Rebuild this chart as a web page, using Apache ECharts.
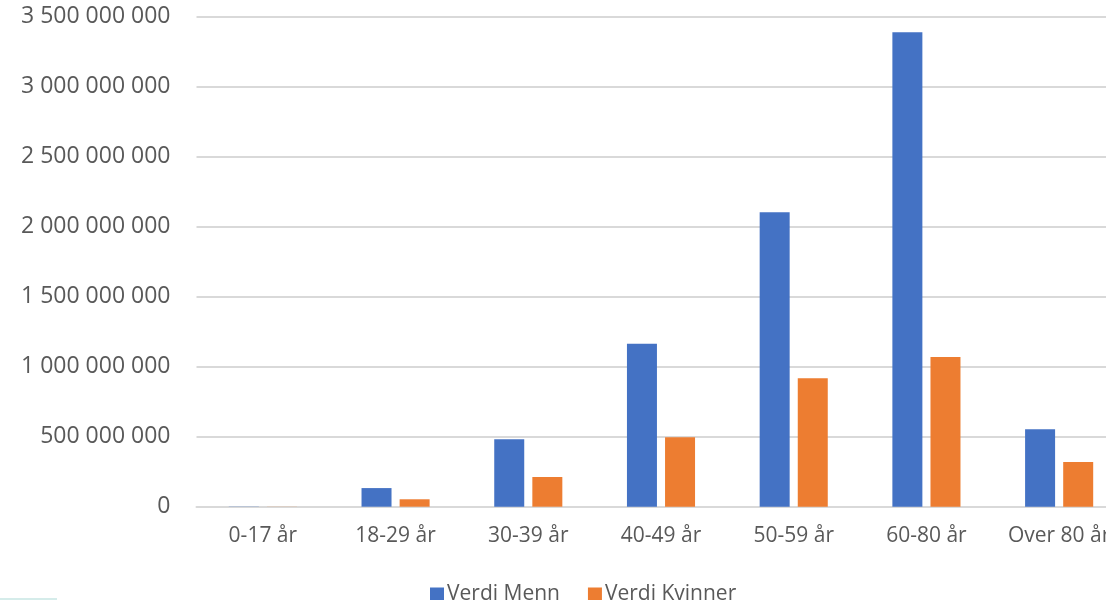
<!DOCTYPE html>
<html>
<head>
<meta charset="utf-8">
<script src="https://cdn.jsdelivr.net/npm/echarts@6/dist/echarts.min.js"></script>
<style>
html,body{margin:0;padding:0;background:#fff;overflow:hidden;width:1106px;height:600px;}
#chart{width:1126px;height:600px;}
</style>
</head>
<body>
<div id="chart"></div>
<script>
const categories = ['0-17 år','18-29 år','30-39 år','40-49 år','50-59 år','60-80 år','Over 80 år'];
const seriesNames = ['Verdi Menn','Verdi Kvinner'];
const menn = [1500000, 133000000, 481000000, 1164000000, 2103000000, 3389000000, 553000000];
const kvinner = [800000, 53000000, 212000000, 496000000, 917000000, 1069000000, 319000000];
const yMax = 3500000000;
const yInterval = 500000000;

function fmt(v){
  return String(Math.round(v)).replace(/\B(?=(\d{3})+(?!\d))/g, ' ');
}

const chart = echarts.init(document.getElementById('chart'), null, {renderer:'canvas'});
const font = 'Open Sans';
chart.setOption({
  animation:false,
  backgroundColor:'#ffffff',
  grid:{left:196.5, right:0.5, top:16.7, bottom:93.3, containLabel:false},
  legend:{
    data:seriesNames,
    left:425, top:579,
    itemWidth:14, itemHeight:14, itemGap:28,
    icon:'rect',
    textStyle:{color:'#595959', fontFamily:font, fontSize:21, padding:[0,0,0,-2]}
  },
  xAxis:{
    type:'category',
    data:categories,
    axisLine:{lineStyle:{color:'#d9d9d9', width:2}},
    axisTick:{show:false},
    axisLabel:{color:'#595959', fontFamily:font, fontSize:21, margin:19, interval:0}
  },
  yAxis:{
    type:'value',
    min:0, max:yMax, interval:yInterval,
    axisLine:{show:false},
    axisTick:{show:false},
    splitLine:{lineStyle:{color:'#d9d9d9', width:2}},
    axisLabel:{color:'#595959', fontFamily:font, fontSize:23, margin:26, formatter:fmt}
  },
  series:[
    {name:seriesNames[0], type:'bar', data:menn, barWidth:30, barGap:'27%', itemStyle:{color:'#4472C4'}},
    {name:seriesNames[1], type:'bar', data:kvinner, barWidth:30, barGap:'27%', itemStyle:{color:'#ED7D31'}}
  ],
  graphic:[
    {type:'rect', left:0, top:598, shape:{width:57, height:2}, style:{fill:'#d5ecea'}}
  ]
});
</script>
</body>
</html>
